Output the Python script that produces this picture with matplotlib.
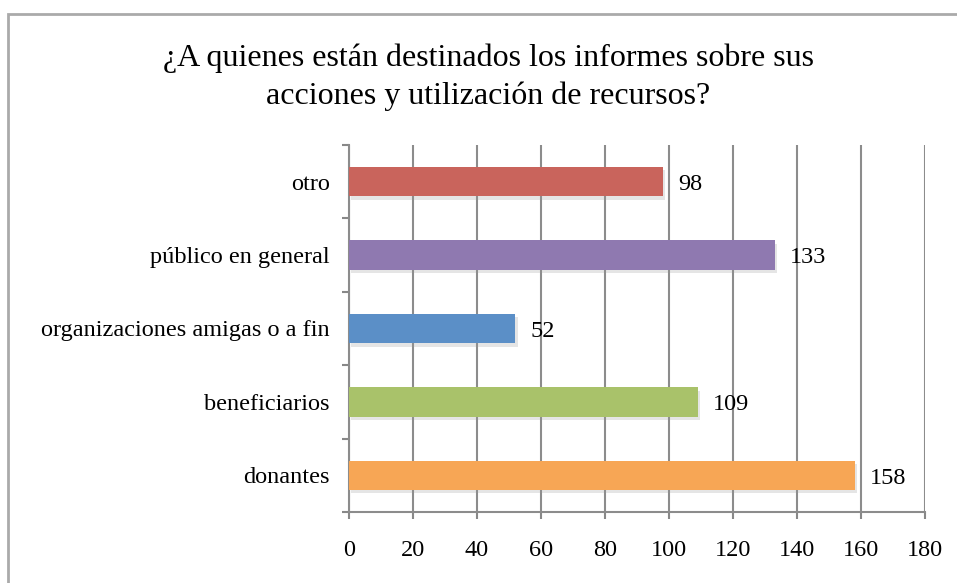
import matplotlib
matplotlib.use('Agg')
import matplotlib.pyplot as plt
import matplotlib.patheffects as pe
from matplotlib.patches import Rectangle

# Data (bottom to top)
categories = ['donantes', 'beneficiarios', 'organizaciones amigas o a fin',
              'público en general', 'otro']
values = [158, 109, 52, 133, 98]
colors = ['#F7A655', '#A9C26A', '#5B8FC7', '#8F79B0', '#C9645C']
xticks = [0, 20, 40, 60, 80, 100, 120, 140, 160, 180]
title = '¿A quienes están destinados los informes sobre sus\nacciones y utilización de recursos?'

plt.rcParams['font.family'] = ['Liberation Serif', 'DejaVu Serif']

fig = plt.figure(figsize=(9.57, 5.83), dpi=100)
ax = fig.add_axes([0.3647, 0.1218, 0.6019, 0.6295])

ypos = list(range(len(categories)))
bars = ax.barh(ypos, values, height=0.4, color=colors, zorder=3)
for b in bars:
    b.set_path_effects([pe.SimplePatchShadow(offset=(1.5, -2.5), shadow_rgbFace='#999999', alpha=0.25),
                        pe.Normal()])

for y, v in zip(ypos, values):
    ax.annotate(str(v), (v, y), xytext=(11, -2), textcoords='offset points',
                va='center', ha='left', fontsize=17.5, color='black', zorder=4)

ax.set_xlim(0, 180)
ax.set_ylim(-0.5, len(categories) - 0.5)
ax.set_xticks(xticks)
ax.set_xticklabels([str(t) for t in xticks], fontsize=17.5)
ax.set_yticks(ypos)
ax.set_yticklabels(categories, fontsize=17.5)
ax.set_yticks([i - 0.5 for i in range(len(categories) + 1)], minor=True)

ax.tick_params(axis='y', which='major', length=0, pad=14)
ax.tick_params(axis='y', which='minor', length=5, color='#888888', width=1.5, direction='out')
ax.tick_params(axis='x', length=5, color='#888888', width=1.5, pad=15)

ax.grid(axis='x', color='#8C8C8C', linewidth=1.5, zorder=0)
ax.set_axisbelow(True)
for s in ['top', 'right']:
    ax.spines[s].set_visible(False)
for s in ['left', 'bottom']:
    ax.spines[s].set_color('#8C8C8C')
    ax.spines[s].set_linewidth(1.5)

fig.text(0.51, 0.925, title, ha='center', va='top', fontsize=23, linespacing=1.38)

# outer frame (only top and left edges visible in the crop)
fig.patches.append(Rectangle((8 / 957, -0.05), 1.1, 1 - 14 / 583 + 0.05,
                             transform=fig.transFigure, fill=False,
                             edgecolor='#AAAAAA', linewidth=2))

fig.savefig('out.png', dpi=100)
